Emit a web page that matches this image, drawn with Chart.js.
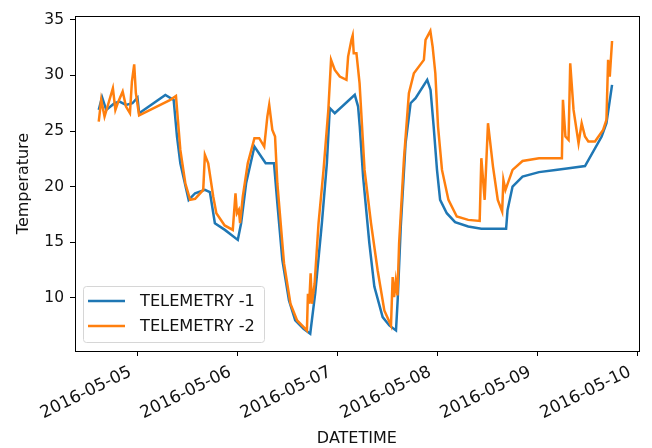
<!DOCTYPE html>
<html>
<head>
<meta charset="utf-8">
<script src="https://cdn.jsdelivr.net/npm/chart.js@4.4.0/dist/chart.umd.min.js"></script>
<style>
  html, body { margin: 0; padding: 0; background: #fff; }
  #wrap { width: 652px; height: 448px; }
</style>
</head>
<body>
<div id="wrap"><canvas id="myChart" width="652" height="448"></canvas></div>
<script>
// hours after 2016-05-05 00:00
const hours1 = [-9.3, -8.5, -7.5, -5.5, -4.3, -2.75, -1.2, 0, 0.4, 6.7, 8.7, 9.5, 10.3, 12.3, 13.85, 16.2, 17.4, 18.6, 21.0, 24.1, 24.9, 26.1, 28.1, 30.8, 32.8, 33.6, 34.8, 36.4, 37.9, 39.9, 41.5, 42.7, 44.3, 45.5, 46.2, 47.4, 52.2, 53.0, 53.4, 54.2, 55.7, 56.9, 58.9, 60.5, 62.1, 62.5, 63.25, 64.4, 65.6, 66.8, 69.6, 70.4, 71.15, 71.95, 72.7, 74.3, 76.3, 79.45, 82.6, 88.55, 88.9, 90.1, 92.5, 96.45, 100.4, 103.6, 107.5, 111.5, 112.65, 114.0];
const temp1 = [26.9, 28.05, 26.9, 27.5, 27.65, 27.35, 27.5, 28.0, 26.6, 28.25, 27.8, 24.5, 22.1, 18.8, 19.4, 19.7, 19.5, 16.7, 16.1, 15.2, 16.7, 20.3, 23.6, 22.1, 22.1, 18.5, 13.4, 9.75, 7.95, 7.2, 6.75, 10.4, 16.7, 22.1, 27.05, 26.6, 28.25, 27.2, 25.4, 20.9, 14.9, 11.0, 8.25, 7.5, 7.05, 9.75, 16.4, 23.9, 27.5, 27.95, 29.6, 28.7, 25.4, 21.5, 18.8, 17.6, 16.8, 16.4, 16.2, 16.2, 17.9, 20.0, 20.9, 21.3, 21.5, 21.65, 21.85, 24.5, 25.7, 29.15];

const hours2 = [-9.3, -8.7, -7.9, -5.9, -5.3, -4.75, -3.55, -2.75, -1.8, -1.33, -0.78, -0.38, 0.4, 7.9, 9.25, 10.3, 11.5, 12.65, 13.85, 15.8, 16.2, 17.0, 18.2, 18.95, 20.95, 22.9, 23.55, 23.9, 24.35, 24.65, 25.3, 26.5, 28.1, 29.25, 30.45, 31.2, 31.65, 32.4, 33.05, 33.6, 35.2, 36.75, 38.35, 40.7, 40.95, 41.25, 41.6, 41.9, 42.55, 43.5, 44.7, 45.85, 46.5, 47.4, 48.6, 50.2, 50.6, 51.4, 51.7, 51.95, 52.6, 53.35, 54.55, 56.1, 57.7, 59.3, 60.9, 61.3, 61.65, 62.05, 62.45, 62.85, 64.0, 65.2, 66.4, 68.8, 69.2, 70.35, 70.9, 71.55, 72.2, 73.15, 74.7, 76.7, 79.45, 82.2, 82.6, 83.4, 84.2, 85.4, 86.55, 87.6, 87.9, 88.4, 90.1, 92.5, 96.45, 101.95, 102.2, 102.8, 103.55, 103.95, 104.75, 105.95, 106.7, 107.5, 108.3, 109.9, 111.85, 112.65, 113.05, 113.45, 114.0];
const temp2 = [25.85, 27.8, 26.3, 28.85, 26.9, 27.5, 28.55, 27.2, 26.6, 29.45, 31.0, 28.4, 26.4, 27.8, 28.15, 23.3, 20.3, 18.8, 18.9, 19.7, 22.85, 22.1, 19.1, 17.6, 16.5, 16.1, 19.4, 17.6, 17.9, 16.7, 19.1, 22.1, 24.35, 24.35, 23.6, 26.3, 27.35, 25.1, 24.5, 20.3, 13.1, 9.45, 7.95, 7.05, 10.35, 9.45, 12.2, 9.45, 11.25, 16.7, 21.5, 26.9, 31.4, 30.5, 29.9, 29.6, 31.7, 33.2, 33.6, 32.0, 32.0, 29.3, 21.5, 16.7, 12.45, 8.85, 7.5, 11.85, 10.05, 11.5, 10.2, 14.9, 22.4, 28.4, 30.2, 31.4, 33.2, 34.0, 32.6, 30.2, 25.4, 21.5, 18.8, 17.3, 17.0, 16.9, 22.55, 18.8, 25.7, 21.8, 18.8, 17.75, 20.6, 19.7, 21.5, 22.3, 22.55, 22.55, 27.8, 24.5, 24.2, 31.1, 26.9, 23.9, 25.7, 24.5, 24.05, 24.05, 25.1, 26.0, 31.4, 29.9, 33.1];

const dayTicks = [0, 24, 48, 72, 96, 120];
const dayLabels = ['2016-05-05', '2016-05-06', '2016-05-07', '2016-05-08', '2016-05-09', '2016-05-10'];
const tempTicks = [10, 15, 20, 25, 30, 35];
const seriesNames = ['TELEMETRY -1', 'TELEMETRY -2'];

const FONT = { family: 'DejaVu Sans', size: 15.5 };
const TITLE_FONT = { family: 'DejaVu Sans', size: 16 };
const blue = '#1f77b4';
const orange = '#ff7f0e';

const framePlugin = {
  id: 'frame',
  afterDraw(chart) {
    const { ctx, chartArea: a } = chart;
    ctx.save();
    ctx.strokeStyle = '#000';
    ctx.lineWidth = 1;
    ctx.strokeRect(Math.round(a.left) + 0.5, Math.round(a.top) + 0.5,
      Math.round(a.right - a.left), Math.round(a.bottom - a.top));

    // legend, lower left like matplotlib
    const x0 = a.left + 8, y0 = a.bottom - 65, w = 181, h = 56;
    ctx.beginPath();
    ctx.roundRect(x0 + 0.5, y0 + 0.5, w, h, 3);
    ctx.fillStyle = 'rgba(255,255,255,0.8)';
    ctx.fill();
    ctx.strokeStyle = '#d6d6d6';
    ctx.stroke();
    ctx.font = '16.2px "DejaVu Sans"';
    ctx.textBaseline = 'middle';
    [blue, orange].forEach((c, i) => {
      const yy = y0 + 15 + i * 25;
      ctx.beginPath();
      ctx.moveTo(x0 + 5, yy);
      ctx.lineTo(x0 + 42, yy);
      ctx.strokeStyle = c;
      ctx.lineWidth = 2.5;
      ctx.stroke();
      ctx.fillStyle = '#111';
      ctx.fillText(seriesNames[i], x0 + 57, yy + 1);
    });
    ctx.restore();
  }
};

new Chart(document.getElementById('myChart'), {
  type: 'line',
  data: {
    datasets: [
      {
        label: seriesNames[0],
        data: hours1.map((h, i) => ({ x: h, y: temp1[i] })),
        borderColor: blue,
        borderWidth: 2.5,
        pointRadius: 0,
        tension: 0,
        order: 1
      },
      {
        label: seriesNames[1],
        data: hours2.map((h, i) => ({ x: h, y: temp2[i] })),
        borderColor: orange,
        borderWidth: 2.5,
        pointRadius: 0,
        tension: 0,
        order: 0
      }
    ]
  },
  options: {
    responsive: false,
    animation: false,
    events: [],
    layout: { padding: { top: 16, right: 6, left: 0, bottom: 0 } },
    plugins: { legend: { display: false }, tooltip: { enabled: false } },
    scales: {
      x: {
        type: 'linear',
        min: -15,
        max: 120.4,
        afterBuildTicks: s => { s.ticks = dayTicks.map(v => ({ value: v })); },
        afterFit: s => { s.height = 97; },
        grid: { drawOnChartArea: false, drawTicks: true, tickLength: 5, color: '#000' },
        border: { display: false },
        ticks: {
          font: { family: 'DejaVu Sans', size: 17 },
          color: '#111',
          padding: 6,
          labelOffset: -7,
          autoSkip: false,
          minRotation: 26,
          maxRotation: 26,
          callback: v => dayLabels[dayTicks.indexOf(v)]
        },
        title: { display: true, text: 'DATETIME', font: TITLE_FONT, color: '#111', padding: { top: 0, bottom: 0 } }
      },
      y: {
        min: 5.2,
        max: 35.35,
        afterBuildTicks: s => { s.ticks = tempTicks.map(v => ({ value: v })); },
        afterFit: s => { s.width = 75; },
        grid: { drawOnChartArea: false, drawTicks: true, tickLength: 5, color: '#000' },
        border: { display: false },
        ticks: { font: FONT, color: '#111', padding: 6 },
        title: { display: true, text: 'Temperature', font: TITLE_FONT, color: '#111', padding: { top: 14, bottom: 0 } }
      }
    }
  },
  plugins: [framePlugin]
});
</script>
</body>
</html>
